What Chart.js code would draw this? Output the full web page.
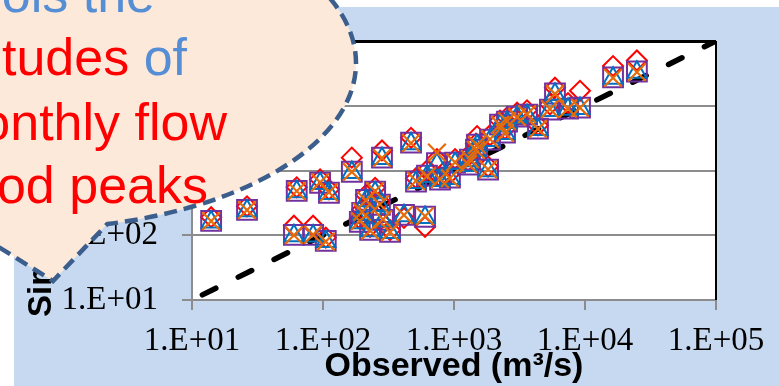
<!DOCTYPE html>
<html>
<head>
<meta charset="utf-8">
<script src="https://cdn.jsdelivr.net/npm/chart.js@4.4.0/dist/chart.umd.min.js"></script>
<style>
html, body { margin: 0; padding: 0; background: #fff; }
canvas { display: block; }
</style>
</head>
<body>
<canvas id="chart1" width="779" height="386"></canvas>
<script>
// observed flow (m3/s), shared by all series
var observed = [14, 26.3, 63, 95, 111, 60, 84, 105, 166, 282, 470, 199, 229, 250, 287, 213, 415, 601, 513, 622,
	782, 931, 741, 1324, 1472, 1279, 1500, 1820, 2245, 2540, 3030, 3610, 4375, 5400, 5900, 7420, 9160, 16370, 24900,
	191, 272, 325, 1019, 1884, 2450];

// simulated flow, one array per model run
var simDiamond = [190, 280, 550, 730, 510, 140, 140, 92, 1580, 2040, 3200, 250, 135, 540, 150, 420, 185, 135, 760, 1000,
	800, 900, 1500, 1800, 2600, 1400, 3400, 1150, 5900, 6600, 7800, 8500, 5000, 10500, 19000, 11000, 17000, 41000, 50000,
	180, 330, 120, 1500, 3500, 4400];
var simSquare = [167, 247, 486, 647, 453, 101, 101, 82, 957, 1578, 2690, 222, 121, 470, 173, 353, 207, 193, 671, 832,
	721, 774, 1300, 1469, 2100, 1230, 2506, 1028, 5117, 5690, 6800, 7310, 4436, 8730, 15450, 9060, 9380, 27350, 33800,
	161, 296, 113, 1321, 3000, 3850];
var simTriangle = [160, 240, 470, 630, 440, 98, 97, 80, 930, 1530, 2600, 212, 117, 455, 168, 340, 200, 188, 650, 810,
	700, 750, 1250, 1420, 2030, 1190, 2420, 995, 4950, 5500, 6600, 7100, 4300, 8450, 15000, 8800, 9100, 26500, 32800,
	156, 287, 110, 1280, 2900, 3720];
var simCross = [165, 245, 480, 655, 460, 100, 102, 80, 950, 1560, 2650, 230, 118, 480, 176, 345, 205, 197, 690, 820,
	735, 760, 1888, 1500, 2080, 1260, 2480, 1040, 5050, 5800, 6700, 7400, 4380, 8900, 15200, 9000, 9300, 27000, 33000,
	165, 300, 112, 1340, 3050, 3800];

var oneToOne = [12, 100000];
var tickValues = [10, 100, 1000, 10000, 100000];
var tickLabels = ['1.E+01', '1.E+02', '1.E+03', '1.E+04', '1.E+05'];

var calloutLines = [
	[['ols the', '#558ed5']],
	[['tudes', '#ff0000'], [' of', '#558ed5']],
	[['onthly flow', '#ff0000']],
	[['od peaks', '#ff0000']]
];

function pairs(xs, ys) {
	return xs.map(function (x, i) { return {x: x, y: ys[i]}; });
}

var gray = '#8c8c8c';

var slidePlugin = {
	id: 'slide',
	beforeDraw: function (chart) {
		var ctx = chart.ctx, a = chart.chartArea;
		ctx.save();
		ctx.fillStyle = '#ffffff';
		ctx.fillRect(0, 0, chart.width, chart.height);
		ctx.fillStyle = '#c6d9f1';
		ctx.fillRect(14, 7, chart.width - 14, chart.height - 7);
		ctx.fillStyle = '#ffffff';
		ctx.fillRect(a.left, a.top, a.right - a.left, a.bottom - a.top);
		ctx.restore();
	},
	afterDraw: function (chart) {
		var ctx = chart.ctx, a = chart.chartArea;
		ctx.save();
		// black frame on top and right
		ctx.strokeStyle = '#000';
		ctx.lineWidth = 2;
		ctx.beginPath();
		ctx.moveTo(a.left, a.top + 1);
		ctx.lineTo(a.right, a.top + 1);
		ctx.lineTo(a.right, a.bottom);
		ctx.stroke();
		ctx.restore();

		// y axis title
		ctx.save();
		ctx.translate(51, 317);
		ctx.rotate(-Math.PI / 2);
		ctx.font = 'bold 33px "Liberation Sans", Arial, sans-serif';
		ctx.fillStyle = '#000';
		ctx.textAlign = 'left';
		ctx.textBaseline = 'alphabetic';
		ctx.fillText('Simulated (m\u00b3/s)', 0, 0);
		ctx.restore();

		// oval callout
		ctx.save();
		ctx.beginPath();
		ctx.ellipse(28, 63, 328, 166, 0, 1.764, 1.327, false);
		ctx.lineTo(53, 281);
		ctx.closePath();
		ctx.fillStyle = '#fde9d9';
		ctx.fill();
		ctx.setLineDash([13, 7]);
		ctx.lineWidth = 4.5;
		ctx.strokeStyle = '#3b5e8c';
		ctx.stroke();

		ctx.font = '52px "Liberation Sans", Arial, sans-serif';
		ctx.textAlign = 'left';
		ctx.textBaseline = 'alphabetic';
		var rights = [155, 187, 227, 208];
		var baselines = [12, 75, 140, 203];
		calloutLines.forEach(function (parts, i) {
			var total = 0;
			parts.forEach(function (p) { total += ctx.measureText(p[0]).width; });
			var x = rights[i] - total;
			parts.forEach(function (p) {
				ctx.fillStyle = p[1];
				ctx.fillText(p[0], x, baselines[i]);
				x += ctx.measureText(p[0]).width;
			});
		});
		ctx.restore();
	}
};

function markerSet(label, data, style, radius, color, width) {
	return {
		label: label,
		data: data,
		pointStyle: style,
		pointRadius: radius,
		pointHoverRadius: radius,
		pointBorderWidth: width,
		borderColor: color,
		backgroundColor: 'rgba(0,0,0,0)',
		showLine: false
	};
}

var ctx = document.getElementById('chart1').getContext('2d');
new Chart(ctx, {
	type: 'scatter',
	data: {
		datasets: [
			markerSet('Run 4', pairs(observed, simCross), 'crossRot', 12.5, '#e46c0a', 2.2),
			markerSet('Run 3', pairs(observed, simTriangle), 'triangle', 11, '#0070c0', 2),
			markerSet('Run 2', pairs(observed, simSquare), 'rect', 14, '#7030a0', 2),
			markerSet('Run 1', pairs(observed, simDiamond), 'rectRot', 10, '#ff0000', 2),
			{
				type: 'line',
				label: '1:1',
				data: pairs(oneToOne, oneToOne),
				borderColor: '#000',
				borderWidth: 5.5,
				borderDash: [15, 25],
				borderCapStyle: 'round',
				pointRadius: 0,
				fill: false
			}
		]
	},
	options: {
		responsive: false,
		animation: false,
		devicePixelRatio: 1,
		layout: {padding: {top: 41, right: 63, left: 0, bottom: 0}},
		plugins: {legend: {display: false}, tooltip: {enabled: false}},
		scales: {
			x: {
				type: 'logarithmic',
				min: 10,
				max: 100000,
				afterBuildTicks: function (s) { s.ticks = tickValues.map(function (v) { return {value: v}; }); },
				afterFit: function (s) { s.height = 86; },
				grid: {drawOnChartArea: false, drawTicks: true, tickLength: 10, color: gray, lineWidth: 2},
				border: {color: gray, width: 2},
				ticks: {
					autoSkip: false,
					maxRotation: 0,
					padding: 12,
					color: '#000',
					font: {family: '"Liberation Serif", "Times New Roman", serif', size: 33},
					callback: function (v) { return tickLabels[tickValues.indexOf(v)]; }
				},
				title: {
					display: true,
					text: 'Observed (m\u00b3/s)',
					color: '#000',
					font: {family: '"Liberation Sans", Arial, sans-serif', size: 34, weight: 'bold', lineHeight: 1},
					padding: {top: 0, bottom: 2}
				}
			},
			y: {
				type: 'logarithmic',
				min: 10,
				max: 100000,
				afterBuildTicks: function (s) { s.ticks = tickValues.map(function (v) { return {value: v}; }); },
				afterFit: function (s) { s.width = 192; },
				grid: {
					drawTicks: true,
					tickLength: 10,
					lineWidth: 2,
					color: function (c) { return c.tick && c.tick.value === 100000 ? '#000' : gray; }
				},
				border: {color: gray, width: 2},
				ticks: {
					autoSkip: false,
					padding: 24,
					color: '#000',
					font: {family: '"Liberation Serif", "Times New Roman", serif', size: 33, lineHeight: 1},
					callback: function (v) { return tickLabels[tickValues.indexOf(v)]; }
				}
			}
		}
	},
	plugins: [slidePlugin]
});
</script>
</body>
</html>
